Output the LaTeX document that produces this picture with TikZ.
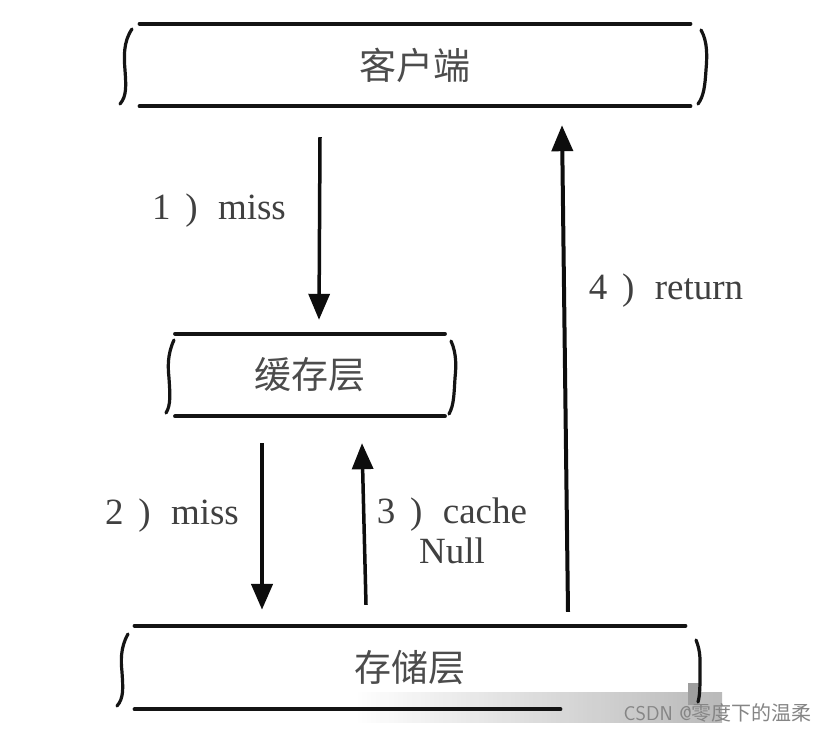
\documentclass[tikz,border=0pt]{standalone}
\usepackage{fontspec}
\setmainfont{Liberation Serif}
\newfontfamily\cjk{Noto Sans CJK SC}
\usetikzlibrary{arrows.meta}
\begin{document}
\begin{tikzpicture}[x=1pt,y=-1pt,
  layerbox/.style={inner sep=0pt, minimum height=82pt, font=\cjk\fontsize{37}{38}\selectfont, text=black!70},
  rule/.style={line width=4.5pt, line cap=round, black!92},
  brk/.style={line width=3.2pt, line cap=round, black!92},
  arr/.style={line width=3.5pt, black!95, -{Triangle[length=26pt,width=21pt]}},
  lbl/.style={inner sep=0pt, font=\fontsize{37}{40}\selectfont, text=black!75, align=center},
  wm/.style={inner sep=0pt, font=\sffamily\fontsize{20}{20}\selectfont, text=black!48}]
\useasboundingbox[fill=white] (0,0) rectangle (825,732);

% watermark background
\shade[left color=white, right color=black!32, opacity=0.85] (355,692) rectangle (722,722);
\fill[black!38] (688,683) rectangle (700,705);

% layers
\node[layerbox, minimum width=550pt] (client) at (415,65) {\raisebox{-4pt}{客户端}};
\node[layerbox, minimum width=269pt] (cache) at (310,375) {\raisebox{-4pt}{缓存层}};
\node[layerbox, minimum width=550pt, minimum height=83pt] (store) at (410,667.5) {\raisebox{-1pt}{存储层}};

\foreach \b in {client,cache}{
  \draw[rule] (\b.north west) -- (\b.north east);
  \draw[rule] (\b.south west) -- (\b.south east);
}
\draw[rule] (store.north west) -- (store.north east);
\draw[rule] (store.south west) -- ([xshift=-125pt]store.south east);

% brackets (hand-drawn sides)
\draw[brk] (132,29) .. controls (123,42) and (124,58) .. (125,70) .. controls (126,85) and (127,96) .. (120,104);
\draw[brk] (701,30) .. controls (708,42) and (707,58) .. (706,70) .. controls (705,85) and (704,96) .. (698,104);
\draw[brk] (174,340) .. controls (167,355) and (168,368) .. (169,378) .. controls (170,394) and (171,405) .. (166,413);
\draw[brk] (451,341) .. controls (457,354) and (456,368) .. (455,378) .. controls (454,394) and (454,405) .. (449,414);
\draw[brk] (128,634) .. controls (120,648) and (121,662) .. (122,672) .. controls (123,688) and (124,698) .. (117,706);
\draw[brk] (696,640) .. controls (701,652) and (700,662) .. (700,672) .. controls (700,686) and (700,695) .. (698,702);

% arrows
\draw[arr] ([shift={(-95,31)}]client.south) -- ([shift={(9,-14)}]cache.north);
\draw[arr, line width=4.5pt] ([shift={(-48,27)}]cache.south) -- ([shift={(-148,-16)}]store.north);
\draw[arr] ([shift={(-44,-21)}]store.north) -- ([shift={(52,27)}]cache.south);
\draw[arr, line width=4pt] ([shift={(158,-14)}]store.north) -- ([shift={(147,19)}]client.south);

% labels
\node[lbl] (l1) at (219,211) {1\hspace{0.4em})\hspace{0.55em}miss};
\node[lbl] (l2) at (172,516) {2\hspace{0.4em})\hspace{0.55em}miss};
\node[lbl] (l3) at (452,531) {3\hspace{0.4em})\hspace{0.55em}cache\\Null};
\node[lbl] (l4) at (666,291) {4\hspace{0.4em})\hspace{0.55em}return};

% watermark
\node[wm, anchor=east] (wmark) at (812,713) {CSDN @{\cjk 零度下的温柔}};
\end{tikzpicture}
\end{document}
